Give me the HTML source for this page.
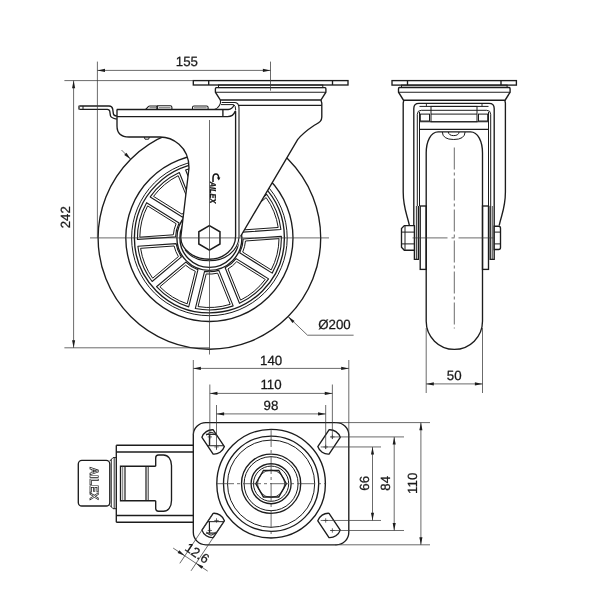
<!DOCTYPE html>
<html><head><meta charset="utf-8"><title>Caster drawing</title>
<style>
html,body{margin:0;padding:0;background:#fff;}
svg{display:block;font-family:"Liberation Sans",sans-serif;text-rendering:geometricPrecision;filter:grayscale(1);}
</style></head><body>
<svg width="600" height="600" viewBox="0 0 600 600">
<rect x="0" y="0" width="600" height="600" fill="#fff"/>
<circle cx="209.40" cy="237.90" r="111.30" stroke="#1c1c1c" stroke-width="1.35" fill="none"/>
<circle cx="209.40" cy="237.90" r="83.60" stroke="#1c1c1c" stroke-width="1.35" fill="none"/>
<circle cx="209.40" cy="237.90" r="77.80" stroke="#1c1c1c" stroke-width="1.0" fill="none"/>
<circle cx="209.40" cy="237.90" r="75.00" stroke="#1c1c1c" stroke-width="1.35" fill="none"/>
<path d="M281.38,236.27 A72,72 0 0 1 272.19,273.13 L239.72,252.84 A33.8,33.8 0 0 0 243.18,238.95 Z" stroke="#1c1c1c" stroke-width="1.1" fill="none" stroke-linejoin="round"/>
<path d="M279.00,238.65 A69.6,69.6 0 0 1 271.20,269.91 L242.70,252.10 A36.2,36.2 0 0 0 245.47,240.99 Z" stroke="#1c1c1c" stroke-width="1.0" fill="none" stroke-linejoin="round"/>
<path d="M268.59,278.89 A72,72 0 0 1 239.49,303.31 L225.15,267.81 A33.8,33.8 0 0 0 236.12,258.60 Z" stroke="#1c1c1c" stroke-width="1.1" fill="none" stroke-linejoin="round"/>
<path d="M265.27,279.41 A69.6,69.6 0 0 1 240.58,300.12 L227.99,268.96 A36.2,36.2 0 0 0 236.76,261.60 Z" stroke="#1c1c1c" stroke-width="1.0" fill="none" stroke-linejoin="round"/>
<path d="M233.19,305.86 A72,72 0 0 1 195.30,308.51 L204.56,271.35 A33.8,33.8 0 0 0 218.85,270.35 Z" stroke="#1c1c1c" stroke-width="1.1" fill="none" stroke-linejoin="round"/>
<path d="M230.20,304.32 A69.6,69.6 0 0 1 198.05,306.57 L206.18,273.96 A36.2,36.2 0 0 0 217.61,273.16 Z" stroke="#1c1c1c" stroke-width="1.0" fill="none" stroke-linejoin="round"/>
<path d="M188.70,306.86 A72,72 0 0 1 156.49,286.73 L185.82,262.12 A33.8,33.8 0 0 0 197.97,269.71 Z" stroke="#1c1c1c" stroke-width="1.1" fill="none" stroke-linejoin="round"/>
<path d="M187.18,303.86 A69.6,69.6 0 0 1 159.86,286.78 L185.60,265.18 A36.2,36.2 0 0 0 195.31,271.25 Z" stroke="#1c1c1c" stroke-width="1.0" fill="none" stroke-linejoin="round"/>
<path d="M152.12,281.52 A72,72 0 0 1 137.89,246.31 L176.09,243.64 A33.8,33.8 0 0 0 181.45,256.91 Z" stroke="#1c1c1c" stroke-width="1.1" fill="none" stroke-linejoin="round"/>
<path d="M152.66,278.20 A69.6,69.6 0 0 1 140.59,248.33 L174.11,245.98 A36.2,36.2 0 0 0 178.40,256.60 Z" stroke="#1c1c1c" stroke-width="1.0" fill="none" stroke-linejoin="round"/>
<path d="M137.42,239.53 A72,72 0 0 1 146.61,202.67 L179.08,222.96 A33.8,33.8 0 0 0 175.62,236.85 Z" stroke="#1c1c1c" stroke-width="1.1" fill="none" stroke-linejoin="round"/>
<path d="M139.80,237.15 A69.6,69.6 0 0 1 147.60,205.89 L176.10,223.70 A36.2,36.2 0 0 0 173.33,234.81 Z" stroke="#1c1c1c" stroke-width="1.0" fill="none" stroke-linejoin="round"/>
<path d="M150.21,196.91 A72,72 0 0 1 179.31,172.49 L193.65,207.99 A33.8,33.8 0 0 0 182.68,217.20 Z" stroke="#1c1c1c" stroke-width="1.1" fill="none" stroke-linejoin="round"/>
<path d="M153.53,196.39 A69.6,69.6 0 0 1 178.22,175.68 L190.81,206.84 A36.2,36.2 0 0 0 182.04,214.20 Z" stroke="#1c1c1c" stroke-width="1.0" fill="none" stroke-linejoin="round"/>
<path d="M185.61,169.94 A72,72 0 0 1 223.50,167.29 L214.24,204.45 A33.8,33.8 0 0 0 199.95,205.45 Z" stroke="#1c1c1c" stroke-width="1.1" fill="none" stroke-linejoin="round"/>
<path d="M188.60,171.48 A69.6,69.6 0 0 1 220.75,169.23 L212.62,201.84 A36.2,36.2 0 0 0 201.19,202.64 Z" stroke="#1c1c1c" stroke-width="1.0" fill="none" stroke-linejoin="round"/>
<path d="M230.10,168.94 A72,72 0 0 1 262.31,189.07 L232.98,213.68 A33.8,33.8 0 0 0 220.83,206.09 Z" stroke="#1c1c1c" stroke-width="1.1" fill="none" stroke-linejoin="round"/>
<path d="M231.62,171.94 A69.6,69.6 0 0 1 258.94,189.02 L233.20,210.62 A36.2,36.2 0 0 0 223.49,204.55 Z" stroke="#1c1c1c" stroke-width="1.0" fill="none" stroke-linejoin="round"/>
<path d="M266.68,194.28 A72,72 0 0 1 280.91,229.49 L242.71,232.16 A33.8,33.8 0 0 0 237.35,218.89 Z" stroke="#1c1c1c" stroke-width="1.1" fill="none" stroke-linejoin="round"/>
<path d="M266.14,197.60 A69.6,69.6 0 0 1 278.21,227.47 L244.69,229.82 A36.2,36.2 0 0 0 240.40,219.20 Z" stroke="#1c1c1c" stroke-width="1.0" fill="none" stroke-linejoin="round"/>
<circle cx="209.40" cy="237.90" r="32.50" stroke="#1c1c1c" stroke-width="1.35" fill="none"/>
<circle cx="209.40" cy="237.90" r="29.50" stroke="#1c1c1c" stroke-width="1.35" fill="none"/>
<path d="M117,109.5 H214.5 C219,108 221,103 220.4,100 H320.9 L321.8,103 V117 C321.8,121.5 319,122.5 314,125.5 C308,129.5 303,133 297.6,139.6 L240.5,236.5 C239,252 225,260.7 209.3,260.7 C193,260.7 181,251 180.75,237.5 L189,168 C189,146 172,137 160,137 H129 Q117,137 117,126 Z" stroke="none" stroke-width="0" fill="#fff" />
<path d="M116.8,109.5 H228.3 C231,109.5 233,107.5 234.2,104.8" stroke="#1c1c1c" stroke-width="1.35" fill="none" />
<path d="M214.5,109.5 C219,108 221.2,103.5 220.4,100" stroke="#1c1c1c" stroke-width="1.1" fill="none" />
<path d="M116.8,116.6 H227.5 C231,116.6 234,114.5 235,111.5 Q235.6,110.5 235.6,112 V236 C235.6,249 224,259.2 209.3,259.2 C194,259.2 181,250 180.75,237.5 L189,168 C189,146 172,137 160,137 H129 Q117,137 117,126 V109.5" stroke="#1c1c1c" stroke-width="1.35" fill="none" />
<line x1="221.70" y1="102.50" x2="235.00" y2="102.50" stroke="#1c1c1c" stroke-width="1.0" />
<path d="M221,104.6 H233.5 Q235.7,105.4 235.7,110" stroke="#1c1c1c" stroke-width="1.0" fill="none" />
<path d="M235,102.5 Q239,102.8 239,108.5 V237.5 C238,251 225,260.8 209.3,260.8 C199,260.8 190,256.5 185,250" stroke="#1c1c1c" stroke-width="1.1" fill="none" />
<line x1="222.90" y1="109.50" x2="222.90" y2="116.60" stroke="#1c1c1c" stroke-width="1.35" />
<line x1="239.00" y1="105.40" x2="321.80" y2="105.40" stroke="#1c1c1c" stroke-width="1.35" />
<path d="M320.9,100 L321.8,103 V117 C321.8,121.5 319,122.5 314,125.5 C308,129.5 303,133 297.6,139.6 L240.5,236.5" stroke="#1c1c1c" stroke-width="1.35" fill="none" />
<rect x="193.30" y="80.60" width="154.70" height="4.40" rx="0" stroke="#1c1c1c" stroke-width="1.35" fill="none"/>
<line x1="208.70" y1="80.60" x2="208.70" y2="85.00" stroke="#1c1c1c" stroke-width="1.35" />
<line x1="332.50" y1="80.60" x2="332.50" y2="85.00" stroke="#1c1c1c" stroke-width="1.35" />
<rect x="218.50" y="85.00" width="104.30" height="2.60" rx="0" stroke="#1c1c1c" stroke-width="1.0" fill="none"/>
<path d="M216.4,87.6 H324.9 Q325.9,87.8 325.9,88.8 V92.2 L320.9,100 H220.4 L215.4,92.2 V88.8 Q215.4,87.8 216.4,87.6 Z" stroke="#1c1c1c" stroke-width="1.35" fill="none" />
<line x1="215.40" y1="92.20" x2="325.90" y2="92.20" stroke="#1c1c1c" stroke-width="1.1" />
<path d="M79.6,106 H109 C111.5,106 112.3,107 112.7,109 L113.4,113.8 C113.6,115.3 114.5,115.8 116.8,116" stroke="#1c1c1c" stroke-width="1.35" fill="none" />
<path d="M79.6,109.4 H107.3 C108.8,109.4 109.6,110 109.8,111.5 L110.4,115.5 C110.7,117.5 112,118.3 116.8,119.2" stroke="#1c1c1c" stroke-width="1.35" fill="none" />
<path d="M79.6,106 Q79,106 79,106.6 V108.8 Q79,109.4 79.6,109.4" stroke="#1c1c1c" stroke-width="1.35" fill="none" />
<line x1="83.00" y1="106.00" x2="83.00" y2="109.40" stroke="#1c1c1c" stroke-width="1.0" />
<path d="M145.6,109.5 L148.6,106.4 Q149,106 149.8,106 H156.8 V109.5" stroke="#1c1c1c" stroke-width="1.1" fill="none" />
<path d="M157.6,109.5 V105.8 H170.4 Q171.9,105.8 171.9,107.3 V109.5" stroke="#1c1c1c" stroke-width="1.1" fill="none" />
<path d="M192.5,109.5 V107.4 Q192.5,106 194,106 H206.6 Q208.1,106 208.1,107.4 V109.5" stroke="#1c1c1c" stroke-width="1.1" fill="none" />
<line x1="149.50" y1="107.70" x2="156.00" y2="107.70" stroke="#3a3a3a" stroke-width="0.7" />
<line x1="159.00" y1="107.70" x2="170.50" y2="107.70" stroke="#3a3a3a" stroke-width="0.7" />
<line x1="194.00" y1="107.80" x2="206.60" y2="107.80" stroke="#3a3a3a" stroke-width="0.7" />
<path d="M144.2,137 L145,139.2 H148.6 L149.4,137" stroke="#1c1c1c" stroke-width="1.0" fill="none" />
<polygon points="209.40,225.70 219.97,231.80 219.97,244.00 209.40,250.10 198.83,244.00 198.83,231.80" fill="#fff" stroke="#1c1c1c" stroke-width="1.5"/>
<line x1="90.00" y1="237.90" x2="329.00" y2="237.90" stroke="#3a3a3a" stroke-width="0.75" />
<line x1="209.50" y1="120.00" x2="209.50" y2="354.50" stroke="#3a3a3a" stroke-width="0.75" />
<text x="0" y="0" font-size="8.5" font-weight="bold" font-style="italic" fill="#111" stroke="#111" stroke-width="0.3" transform="translate(210.3 181.8) rotate(90)" textLength="21.5" lengthAdjust="spacingAndGlyphs">AILEX</text>
<path d="M213,182 V178 C213,175 214.5,174 216,174 C217.8,174 218.6,175.5 218.7,178" stroke="#111" stroke-width="1.5" fill="none" />
<polygon points="216.9,177.6 220.4,177.6 218.8,180.6" fill="#111"/>
<line x1="64.40" y1="347.80" x2="209.50" y2="347.80" stroke="#3a3a3a" stroke-width="0.75" />
<line x1="64.40" y1="80.60" x2="193.30" y2="80.60" stroke="#3a3a3a" stroke-width="0.75" />
<line x1="73.60" y1="80.60" x2="73.60" y2="347.80" stroke="#3a3a3a" stroke-width="0.75" />
<polygon points="73.60,80.60 75.15,88.20 72.05,88.20" fill="#1c1c1c"/>
<polygon points="73.60,347.80 72.05,340.20 75.15,340.20" fill="#1c1c1c"/>
<text x="69.80" y="217.20" font-size="13.3" text-anchor="middle" fill="#1a1a1a" stroke="#1a1a1a" stroke-width="0.25" transform="rotate(-90 69.80 217.20)" >242</text>
<line x1="97.40" y1="61.60" x2="97.40" y2="237.90" stroke="#3a3a3a" stroke-width="0.75" />
<line x1="270.50" y1="61.60" x2="270.50" y2="90.70" stroke="#3a3a3a" stroke-width="0.75" />
<line x1="97.40" y1="70.40" x2="270.50" y2="70.40" stroke="#3a3a3a" stroke-width="0.75" />
<polygon points="97.40,70.40 105.00,68.85 105.00,71.95" fill="#1c1c1c"/>
<polygon points="270.50,70.40 262.90,71.95 262.90,68.85" fill="#1c1c1c"/>
<text x="186.90" y="66.30" font-size="13.3" text-anchor="middle" fill="#1a1a1a" stroke="#1a1a1a" stroke-width="0.25" >155</text>
<line x1="288.10" y1="316.60" x2="307.50" y2="335.20" stroke="#3a3a3a" stroke-width="0.75" />
<line x1="307.50" y1="335.20" x2="353.60" y2="335.20" stroke="#3a3a3a" stroke-width="0.75" />
<polygon points="288.10,316.60 294.57,320.88 292.38,323.07" fill="#1c1c1c"/>
<line x1="130.70" y1="159.20" x2="121.51" y2="150.01" stroke="#3a3a3a" stroke-width="0.75" />
<polygon points="130.70,159.20 124.23,154.92 126.42,152.73" fill="#1c1c1c"/>
<text x="318.20" y="328.90" font-size="13.3" text-anchor="start" fill="#1a1a1a" stroke="#1a1a1a" stroke-width="0.25" >Ø200</text>
<rect x="392.00" y="80.60" width="124.40" height="4.50" rx="0" stroke="#1c1c1c" stroke-width="1.35" fill="none"/>
<line x1="407.50" y1="80.60" x2="407.50" y2="85.10" stroke="#1c1c1c" stroke-width="1.35" />
<line x1="501.00" y1="80.60" x2="501.00" y2="85.10" stroke="#1c1c1c" stroke-width="1.35" />
<rect x="401.50" y="85.10" width="105.60" height="2.30" rx="0" stroke="#1c1c1c" stroke-width="1.0" fill="none"/>
<path d="M399.5,87.5 H509.1 Q510.1,87.7 510.1,88.7 V92.2 L505.1,100.2 H403.5 L398.5,92.2 V88.7 Q398.5,87.7 399.5,87.5 Z" stroke="#1c1c1c" stroke-width="1.35" fill="none" />
<line x1="398.50" y1="92.20" x2="510.10" y2="92.20" stroke="#1c1c1c" stroke-width="1.1" />
<path d="M426.2,270 V153 C426.2,141.5 430.7,131.8 438.2,131.8 H470.5 C478.0,131.8 482.5,141.5 482.5,153 V270 M426.2,270 V321.3 A28.15,28.15 0 0 0 482.5,321.3 V270" stroke="#1c1c1c" stroke-width="1.35" fill="none" />
<path d="M442.3,132 Q442.6,139.5 453.7,139.5 Q464.8,139.5 465.1,132 M448.3,132 Q448.8,135.6 453.7,135.6 Q458.6,135.6 459.1,132" stroke="#1c1c1c" stroke-width="1.0" fill="none" />
<path d="M403.8,100.2 L403.2,103 V192 C403.2,208 407,214 409.4,225.5 M504.8,100.2 L505.4,103 V192 C505.4,208 501.6,214 499.2,225.5" stroke="#1c1c1c" stroke-width="1.35" fill="none" />
<path d="M413.8,226 V108.5 Q413.8,103.4 419,103.4 H489 Q494.2,103.4 494.2,108.5 V226" stroke="#1c1c1c" stroke-width="1.35" fill="none" />
<path d="M417.3,206 V114.3 Q417.3,110.3 421.3,110.3 H486.7 Q490.7,110.3 490.7,114.3 V206" stroke="#1c1c1c" stroke-width="1.0" fill="none" />
<line x1="419.50" y1="106.40" x2="488.50" y2="106.40" stroke="#1c1c1c" stroke-width="1.0" />
<line x1="426.40" y1="103.40" x2="426.40" y2="106.40" stroke="#1c1c1c" stroke-width="0.9" />
<line x1="482.00" y1="103.40" x2="482.00" y2="106.40" stroke="#1c1c1c" stroke-width="0.9" />
<rect x="431.00" y="106.40" width="46.00" height="15.40" rx="0" stroke="#1c1c1c" stroke-width="1.0" fill="none"/>
<line x1="431.00" y1="114.10" x2="477.00" y2="114.10" stroke="#1c1c1c" stroke-width="1.0" />
<rect x="420.30" y="114.10" width="9.20" height="6.90" rx="0" stroke="#1c1c1c" stroke-width="1.0" fill="none"/>
<rect x="478.50" y="114.10" width="9.20" height="6.90" rx="0" stroke="#1c1c1c" stroke-width="1.0" fill="none"/>
<line x1="419.50" y1="121.80" x2="488.50" y2="121.80" stroke="#1c1c1c" stroke-width="1.1" />
<line x1="419.50" y1="129.40" x2="488.50" y2="129.40" stroke="#1c1c1c" stroke-width="1.35" />
<line x1="419.50" y1="112.00" x2="419.50" y2="206.00" stroke="#1c1c1c" stroke-width="1.0" />
<line x1="488.50" y1="112.00" x2="488.50" y2="206.00" stroke="#1c1c1c" stroke-width="1.0" />
<rect x="420.20" y="206.00" width="6.00" height="63.40" rx="0" stroke="#1c1c1c" stroke-width="1.35" fill="none"/>
<rect x="482.50" y="206.00" width="6.00" height="63.40" rx="0" stroke="#1c1c1c" stroke-width="1.35" fill="none"/>
<path d="M414.4,226 V259.4 H418.4 V206 M494.2,226 V259.4 H490.2 V206" stroke="#1c1c1c" stroke-width="1.35" fill="none" />
<line x1="416.40" y1="206.00" x2="416.40" y2="259.40" stroke="#1c1c1c" stroke-width="0.9" />
<line x1="492.20" y1="206.00" x2="492.20" y2="259.40" stroke="#1c1c1c" stroke-width="0.9" />
<path d="M414.4,225.6 H404.3 L401.5,228.6 V247.2 L404.3,250.2 H414.4 Z" stroke="#1c1c1c" stroke-width="1.35" fill="#fff" />
<line x1="405.00" y1="226.00" x2="405.00" y2="249.80" stroke="#1c1c1c" stroke-width="1.0" />
<line x1="401.80" y1="232.10" x2="414.40" y2="232.10" stroke="#1c1c1c" stroke-width="1.0" />
<line x1="401.80" y1="243.90" x2="414.40" y2="243.90" stroke="#1c1c1c" stroke-width="1.0" />
<path d="M494.2,226.2 H498.6 Q500.5,226.2 500.5,228.2 V247.5 Q500.5,249.5 498.6,249.5 H494.2 Z" stroke="#1c1c1c" stroke-width="1.35" fill="#fff" />
<line x1="494.20" y1="232.10" x2="500.50" y2="232.10" stroke="#1c1c1c" stroke-width="1.0" />
<line x1="494.20" y1="243.90" x2="500.50" y2="243.90" stroke="#1c1c1c" stroke-width="1.0" />
<line x1="412.5" y1="237.9" x2="497.5" y2="237.9" stroke="#3a3a3a" stroke-width="0.75" stroke-dasharray="35 4 3 4"/>
<line x1="454.3" y1="147.5" x2="454.3" y2="328.5" stroke="#3a3a3a" stroke-width="0.75" stroke-dasharray="22 3 3 3"/>
<line x1="426.20" y1="328.00" x2="426.20" y2="393.00" stroke="#3a3a3a" stroke-width="0.75" />
<line x1="482.50" y1="328.00" x2="482.50" y2="393.00" stroke="#3a3a3a" stroke-width="0.75" />
<line x1="426.20" y1="383.90" x2="482.50" y2="383.90" stroke="#3a3a3a" stroke-width="0.75" />
<polygon points="426.20,383.90 433.80,382.35 433.80,385.45" fill="#1c1c1c"/>
<polygon points="482.50,383.90 474.90,385.45 474.90,382.35" fill="#1c1c1c"/>
<text x="454.20" y="379.70" font-size="13.3" text-anchor="middle" fill="#1a1a1a" stroke="#1a1a1a" stroke-width="0.25" >50</text>
<rect x="193.30" y="422.60" width="155.50" height="122.20" rx="12.5" stroke="#1c1c1c" stroke-width="1.35" fill="none"/>
<circle cx="271.10" cy="483.70" r="54.30" stroke="#1c1c1c" stroke-width="1.35" fill="none"/>
<circle cx="271.10" cy="483.70" r="47.60" stroke="#1c1c1c" stroke-width="1.35" fill="none"/>
<circle cx="271.10" cy="483.70" r="43.60" stroke="#1c1c1c" stroke-width="1.0" fill="none"/>
<circle cx="271.10" cy="483.70" r="29.60" stroke="#1c1c1c" stroke-width="1.35" fill="none"/>
<circle cx="271.10" cy="483.70" r="27.00" stroke="#1c1c1c" stroke-width="1.0" fill="none"/>
<circle cx="271.10" cy="483.70" r="20.00" stroke="#1c1c1c" stroke-width="1.35" fill="none"/>
<circle cx="271.10" cy="483.70" r="17.60" stroke="#1c1c1c" stroke-width="1.0" fill="none"/>
<polygon points="286.40,483.70 278.75,496.95 263.45,496.95 255.80,483.70 263.45,470.45 278.75,470.45" fill="none" stroke="#1c1c1c" stroke-width="1.35"/>
<circle cx="271.10" cy="483.70" r="13.60" stroke="#1c1c1c" stroke-width="0.8" fill="none"/>
<line x1="216" y1="483.7" x2="326" y2="483.7" stroke="#3a3a3a" stroke-width="0.75" stroke-dasharray="18 3 3 3"/>
<line x1="271.1" y1="429" x2="271.1" y2="538" stroke="#3a3a3a" stroke-width="0.75" stroke-dasharray="18 3 3 3"/>
<path d="M213.19,429.78 A11,11 0 0 0 201.95,437.27 L213.16,454.07 A11,11 0 0 0 224.39,446.58 Z" stroke="#1c1c1c" stroke-width="1.35" fill="none" stroke-linejoin="round"/>
<line x1="214.31" y1="446.94" x2="218.71" y2="446.94" stroke="#3a3a3a" stroke-width="0.75" />
<line x1="216.51" y1="444.74" x2="216.51" y2="449.14" stroke="#3a3a3a" stroke-width="0.75" />
<line x1="207.63" y1="436.91" x2="212.03" y2="436.91" stroke="#3a3a3a" stroke-width="0.75" />
<line x1="209.83" y1="434.71" x2="209.83" y2="439.11" stroke="#3a3a3a" stroke-width="0.75" />
<path d="M201.95,530.13 A11,11 0 0 0 213.19,537.62 L224.39,520.82 A11,11 0 0 0 213.16,513.33 Z" stroke="#1c1c1c" stroke-width="1.35" fill="none" stroke-linejoin="round"/>
<line x1="214.31" y1="520.46" x2="218.71" y2="520.46" stroke="#3a3a3a" stroke-width="0.75" />
<line x1="216.51" y1="518.26" x2="216.51" y2="522.66" stroke="#3a3a3a" stroke-width="0.75" />
<line x1="207.63" y1="530.49" x2="212.03" y2="530.49" stroke="#3a3a3a" stroke-width="0.75" />
<line x1="209.83" y1="528.29" x2="209.83" y2="532.69" stroke="#3a3a3a" stroke-width="0.75" />
<path d="M340.25,437.27 A11,11 0 0 0 329.01,429.78 L317.81,446.58 A11,11 0 0 0 329.04,454.07 Z" stroke="#1c1c1c" stroke-width="1.35" fill="none" stroke-linejoin="round"/>
<line x1="323.49" y1="446.94" x2="327.89" y2="446.94" stroke="#3a3a3a" stroke-width="0.75" />
<line x1="325.69" y1="444.74" x2="325.69" y2="449.14" stroke="#3a3a3a" stroke-width="0.75" />
<line x1="330.17" y1="436.91" x2="334.57" y2="436.91" stroke="#3a3a3a" stroke-width="0.75" />
<line x1="332.37" y1="434.71" x2="332.37" y2="439.11" stroke="#3a3a3a" stroke-width="0.75" />
<path d="M329.01,537.62 A11,11 0 0 0 340.25,530.13 L329.04,513.33 A11,11 0 0 0 317.81,520.82 Z" stroke="#1c1c1c" stroke-width="1.35" fill="none" stroke-linejoin="round"/>
<line x1="323.49" y1="520.46" x2="327.89" y2="520.46" stroke="#3a3a3a" stroke-width="0.75" />
<line x1="325.69" y1="518.26" x2="325.69" y2="522.66" stroke="#3a3a3a" stroke-width="0.75" />
<line x1="330.17" y1="530.49" x2="334.57" y2="530.49" stroke="#3a3a3a" stroke-width="0.75" />
<line x1="332.37" y1="528.29" x2="332.37" y2="532.69" stroke="#3a3a3a" stroke-width="0.75" />
<line x1="205.94" y1="434.31" x2="216.21" y2="434.31" stroke="#1c1c1c" stroke-width="1.2" />
<line x1="207.60" y1="445.74" x2="223.83" y2="445.74" stroke="#1c1c1c" stroke-width="1.0" />
<line x1="209.43" y1="434.31" x2="209.43" y2="445.74" stroke="#1c1c1c" stroke-width="1.2" />
<path d="M206.54,435.21 Q211.07,429.31 215.61,435.21" stroke="#1c1c1c" stroke-width="1.0" fill="none" />
<line x1="205.94" y1="533.09" x2="216.21" y2="533.09" stroke="#1c1c1c" stroke-width="1.2" />
<line x1="207.60" y1="521.66" x2="223.83" y2="521.66" stroke="#1c1c1c" stroke-width="1.0" />
<line x1="209.43" y1="533.09" x2="209.43" y2="521.66" stroke="#1c1c1c" stroke-width="1.2" />
<path d="M206.54,532.19 Q211.07,538.09 215.61,532.19" stroke="#1c1c1c" stroke-width="1.0" fill="none" />
<line x1="193.30" y1="360.00" x2="193.30" y2="435.00" stroke="#3a3a3a" stroke-width="0.75" />
<line x1="348.80" y1="360.00" x2="348.80" y2="435.00" stroke="#3a3a3a" stroke-width="0.75" />
<line x1="193.30" y1="368.40" x2="348.80" y2="368.40" stroke="#3a3a3a" stroke-width="0.75" />
<polygon points="193.30,368.40 200.90,366.85 200.90,369.95" fill="#1c1c1c"/>
<polygon points="348.80,368.40 341.20,369.95 341.20,366.85" fill="#1c1c1c"/>
<text x="271.10" y="364.60" font-size="13.3" text-anchor="middle" fill="#1a1a1a" stroke="#1a1a1a" stroke-width="0.25" >140</text>
<line x1="209.83" y1="384.50" x2="209.83" y2="444.91" stroke="#3a3a3a" stroke-width="0.75" />
<line x1="332.37" y1="384.50" x2="332.37" y2="438.91" stroke="#3a3a3a" stroke-width="0.75" />
<line x1="209.83" y1="393.40" x2="332.37" y2="393.40" stroke="#3a3a3a" stroke-width="0.75" />
<polygon points="209.83,393.40 217.43,391.85 217.43,394.95" fill="#1c1c1c"/>
<polygon points="332.37,393.40 324.77,394.95 324.77,391.85" fill="#1c1c1c"/>
<text x="271.00" y="388.90" font-size="13.3" text-anchor="middle" fill="#1a1a1a" stroke="#1a1a1a" stroke-width="0.25" >110</text>
<line x1="216.51" y1="405.00" x2="216.51" y2="449.94" stroke="#3a3a3a" stroke-width="0.75" />
<line x1="325.69" y1="405.00" x2="325.69" y2="448.94" stroke="#3a3a3a" stroke-width="0.75" />
<line x1="216.51" y1="413.90" x2="325.69" y2="413.90" stroke="#3a3a3a" stroke-width="0.75" />
<polygon points="216.51,413.90 224.11,412.35 224.11,415.45" fill="#1c1c1c"/>
<polygon points="325.69,413.90 318.09,415.45 318.09,412.35" fill="#1c1c1c"/>
<text x="271.00" y="409.50" font-size="13.3" text-anchor="middle" fill="#1a1a1a" stroke="#1a1a1a" stroke-width="0.25" >98</text>
<line x1="335.00" y1="422.60" x2="430.00" y2="422.60" stroke="#3a3a3a" stroke-width="0.75" />
<line x1="335.00" y1="544.80" x2="430.00" y2="544.80" stroke="#3a3a3a" stroke-width="0.75" />
<line x1="420.90" y1="422.60" x2="420.90" y2="544.80" stroke="#3a3a3a" stroke-width="0.75" />
<polygon points="420.90,422.60 422.45,430.20 419.35,430.20" fill="#1c1c1c"/>
<polygon points="420.90,544.80 419.35,537.20 422.45,537.20" fill="#1c1c1c"/>
<text x="417.50" y="483.30" font-size="13.3" text-anchor="middle" fill="#1a1a1a" stroke="#1a1a1a" stroke-width="0.25" transform="rotate(-90 417.50 483.30)" >110</text>
<line x1="330.37" y1="436.91" x2="404.00" y2="436.91" stroke="#3a3a3a" stroke-width="0.75" />
<line x1="330.37" y1="530.49" x2="404.00" y2="530.49" stroke="#3a3a3a" stroke-width="0.75" />
<line x1="394.20" y1="436.91" x2="394.20" y2="530.49" stroke="#3a3a3a" stroke-width="0.75" />
<polygon points="394.20,436.91 395.75,444.51 392.65,444.51" fill="#1c1c1c"/>
<polygon points="394.20,530.49 392.65,522.89 395.75,522.89" fill="#1c1c1c"/>
<text x="390.50" y="483.30" font-size="13.3" text-anchor="middle" fill="#1a1a1a" stroke="#1a1a1a" stroke-width="0.25" transform="rotate(-90 390.50 483.30)" >84</text>
<line x1="320.69" y1="446.94" x2="381.00" y2="446.94" stroke="#3a3a3a" stroke-width="0.75" />
<line x1="320.69" y1="520.46" x2="381.00" y2="520.46" stroke="#3a3a3a" stroke-width="0.75" />
<line x1="372.50" y1="446.94" x2="372.50" y2="520.46" stroke="#3a3a3a" stroke-width="0.75" />
<polygon points="372.50,446.94 374.05,454.54 370.95,454.54" fill="#1c1c1c"/>
<polygon points="372.50,520.46 370.95,512.86 374.05,512.86" fill="#1c1c1c"/>
<text x="368.70" y="483.30" font-size="13.3" text-anchor="middle" fill="#1a1a1a" stroke="#1a1a1a" stroke-width="0.25" transform="rotate(-90 368.70 483.30)" >66</text>
<line x1="211.99" y1="515.07" x2="179.82" y2="563.33" stroke="#3a3a3a" stroke-width="0.75" />
<line x1="223.23" y1="522.56" x2="191.05" y2="570.82" stroke="#3a3a3a" stroke-width="0.75" />
<line x1="173.16" y1="548.08" x2="207.69" y2="571.10" stroke="#3a3a3a" stroke-width="0.75" />
<polygon points="184.81,555.84 177.63,552.92 179.35,550.34" fill="#1c1c1c"/>
<polygon points="196.05,563.33 203.23,566.26 201.51,568.84" fill="#1c1c1c"/>
<text x="194.67" y="557.01" font-size="13.3" text-anchor="middle" fill="#1a1a1a" stroke="#1a1a1a" stroke-width="0.25" transform="rotate(33.7 194.67 557.01)" >12.6</text>
<line x1="116.30" y1="445.20" x2="193.30" y2="445.20" stroke="#1c1c1c" stroke-width="1.35" />
<line x1="116.30" y1="522.20" x2="193.30" y2="522.20" stroke="#1c1c1c" stroke-width="1.35" />
<line x1="116.30" y1="445.20" x2="116.30" y2="522.20" stroke="#1c1c1c" stroke-width="1.35" />
<line x1="116.30" y1="452.00" x2="193.30" y2="452.00" stroke="#1c1c1c" stroke-width="1.35" />
<line x1="116.30" y1="515.50" x2="193.30" y2="515.50" stroke="#1c1c1c" stroke-width="1.35" />
<rect x="78.30" y="460.30" width="31.50" height="45.70" rx="3.6" stroke="#1c1c1c" stroke-width="1.35" fill="none"/>
<path d="M109.8,461 L113,457.6 H116.3 M109.8,505.3 L113,508.7 H116.3" stroke="#1c1c1c" stroke-width="1.0" fill="none" />
<line x1="111.30" y1="459.40" x2="111.30" y2="506.90" stroke="#1c1c1c" stroke-width="0.9" />
<line x1="114.20" y1="457.60" x2="114.20" y2="508.70" stroke="#1c1c1c" stroke-width="0.9" />
<path d="M155.7,466.2 H120.5 V500.7 H155.7" stroke="#1c1c1c" stroke-width="1.35" fill="none" />
<line x1="122.70" y1="466.20" x2="122.70" y2="500.70" stroke="#3a3a3a" stroke-width="0.7" />
<line x1="125.00" y1="466.20" x2="125.00" y2="500.70" stroke="#1c1c1c" stroke-width="1.2" />
<line x1="146.00" y1="466.20" x2="146.00" y2="500.70" stroke="#1c1c1c" stroke-width="1.2" />
<line x1="148.20" y1="466.20" x2="148.20" y2="500.70" stroke="#1c1c1c" stroke-width="0.9" />
<path d="M155.7,466.2 V458 Q155.7,455 158.5,455 H163.5 C168,455 171.5,459 171.5,465.5 V500.5 C171.5,507 168,511.2 163.5,511.2 H158.5 Q155.7,511.2 155.7,508.2 V500.7" stroke="#1c1c1c" stroke-width="1.35" fill="none" />
<text x="0" y="0" font-size="12" font-weight="bold" fill="none" stroke="#111" stroke-width="0.75" transform="translate(89.8 467) rotate(90)" textLength="33" lengthAdjust="spacingAndGlyphs">AILEX</text>
</svg>
</body></html>
